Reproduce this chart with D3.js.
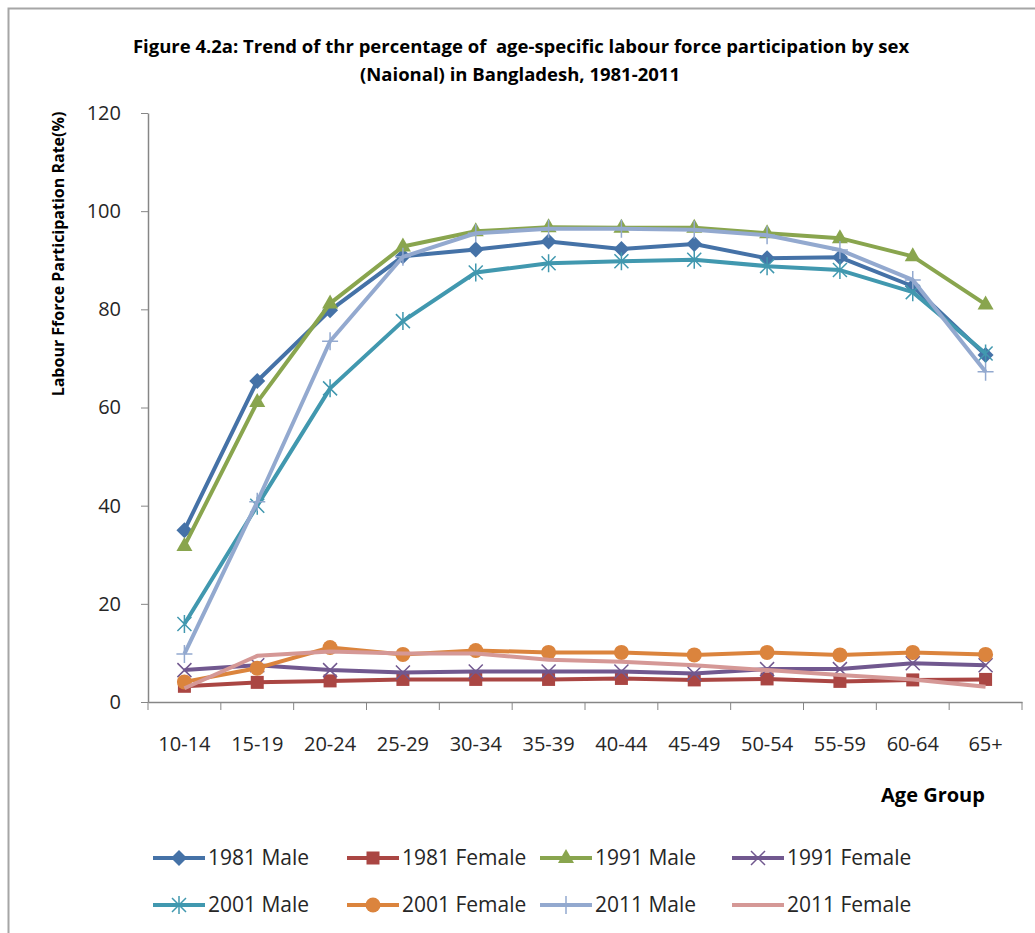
<!DOCTYPE html>
<html>
<head>
<meta charset="utf-8">
<script src="https://cdn.jsdelivr.net/npm/d3@7"></script>
<style>
    body { margin: 0; background: #fff; }
    svg { display: block; }
</style>
</head>
<body>
<div id="chart"></div>
<script>
// Chart data
const ageGroups = ['10-14', '15-19', '20-24', '25-29', '30-34', '35-39', '40-44', '45-49', '50-54', '55-59', '60-64', '65+'];
const yTicks = [0, 20, 40, 60, 80, 100, 120];

const male1981 = [35.0, 65.4, 79.8, 90.8, 92.2, 93.8, 92.3, 93.3, 90.4, 90.6, 84.7, 70.7];
const female1981 = [3.2, 4.0, 4.3, 4.6, 4.6, 4.6, 4.8, 4.5, 4.7, 4.2, 4.5, 4.6];
const male1991 = [31.8, 61.1, 81.2, 92.8, 95.9, 96.7, 96.6, 96.6, 95.5, 94.5, 90.8, 81.0];
const female1991 = [6.5, 7.5, 6.5, 6.0, 6.2, 6.2, 6.2, 5.8, 6.7, 6.7, 7.9, 7.5];
const male2001 = [15.9, 40.0, 63.9, 77.6, 87.5, 89.4, 89.8, 90.1, 88.8, 88.0, 83.5, 71.0];
const female2001 = [4.1, 6.9, 11.1, 9.7, 10.5, 10.1, 10.1, 9.6, 10.1, 9.6, 10.1, 9.7];
const male2011 = [9.8, 40.8, 73.5, 90.7, 95.5, 96.4, 96.4, 96.2, 95.1, 92.1, 86.0, 67.3];
const female2011 = [2.8, 9.4, 10.3, 9.9, 9.9, 8.6, 8.2, 7.5, 6.5, 5.5, 4.6, 3.1];

const seriesNames = ['1981 Male', '1981 Female', '1991 Male', '1991 Female', '2001 Male', '2001 Female', '2011 Male', '2011 Female'];
const seriesValues = [male1981, female1981, male1991, female1991, male2001, female2001, male2011, female2011];
const seriesColors = ['#4572A7', '#AA4643', '#89A54E', '#71588F', '#4198AF', '#DB843D', '#93A9CF', '#D59896'];
const seriesMarkers = ['diamond', 'square', 'triangle', 'cross', 'asterisk', 'circle', 'plus', 'none'];

const width = 1035, height = 933;
const font = "'Open Sans', 'Noto Sans', sans-serif";
const axisColor = '#868686';
const textColor = '#262626';

const svg = d3.select('#chart').append('svg')
    .attr('width', width)
    .attr('height', height)
    .attr('font-family', font);

// outer chart frame (cut by the page edge)
svg.append('rect')
    .attr('x', 8.5).attr('y', 8.5)
    .attr('width', 1060).attr('height', 960)
    .attr('fill', 'none')
    .attr('stroke', '#a6a6a6')
    .attr('stroke-width', 2);

const x = d3.scaleBand().domain(ageGroups).range([148, 1022]);
const y = d3.scaleLinear().domain([0, 120]).range([702, 113]);

// Title
const title = svg.append('g')
    .attr('font-weight', 'bold')
    .attr('font-size', 18.5)
    .attr('fill', '#000')
    .attr('text-anchor', 'middle');
title.append('text').attr('x', 521).attr('y', 53)
    .text('Figure 4.2a: Trend of thr percentage of  age-specific labour force participation by sex')
    .style('white-space', 'pre');
title.append('text').attr('x', 520).attr('y', 81)
    .text('(Naional) in Bangladesh, 1981-2011');

// Y axis
const yAxis = svg.append('g')
    .attr('transform', `translate(${x.range()[0]},0)`)
    .call(d3.axisLeft(y).tickValues(yTicks).tickSize(7).tickSizeOuter(0).tickPadding(20));

// X axis: labels in the band centres, ticks on the band edges
const xAxis = svg.append('g')
    .attr('transform', `translate(0,${y(0)})`)
    .call(d3.axisBottom(x).tickSize(0).tickSizeOuter(0).tickPadding(35));

const edges = ageGroups.map(d => x(d)).concat([x.range()[1]]);
xAxis.selectAll('.edge-tick')
    .data(edges)
    .enter().append('line')
    .attr('class', 'edge-tick')
    .attr('x1', d => d).attr('x2', d => d)
    .attr('y1', 0).attr('y2', 8)
    .attr('stroke', axisColor);

[yAxis, xAxis].forEach(a => {
    a.select('.domain').attr('stroke', axisColor).attr('stroke-width', 1.5);
    a.selectAll('.tick line').attr('stroke', axisColor);
    a.selectAll('.tick text')
        .attr('font-family', font)
        .attr('font-size', 20)
        .attr('fill', textColor);
});

// Axis titles
svg.append('text')
    .attr('transform', 'translate(64,254) rotate(-90)')
    .attr('text-anchor', 'middle')
    .attr('font-weight', 'bold')
    .attr('font-size', 16)
    .attr('fill', '#000')
    .text('Labour Fforce Participation Rate(%)');

svg.append('text')
    .attr('x', 933).attr('y', 802)
    .attr('text-anchor', 'middle')
    .attr('font-weight', 'bold')
    .attr('font-size', 20)
    .attr('fill', '#000')
    .text('Age Group');

// Markers
function drawMarker(g, type, cx, cy, color) {
    const m = g.append('g').attr('transform', `translate(${cx},${cy})`);
    if (type === 'diamond') {
        m.append('path').attr('d', 'M0,-8L8,0L0,8L-8,0Z').attr('fill', color);
    } else if (type === 'square') {
        m.append('rect').attr('x', -6.5).attr('y', -6.5).attr('width', 13).attr('height', 13).attr('fill', color);
    } else if (type === 'triangle') {
        m.append('path').attr('d', 'M0,-9L8,5L-8,5Z').attr('fill', color);
    } else if (type === 'circle') {
        m.append('circle').attr('r', 7.5).attr('fill', color);
    } else if (type === 'cross') {
        m.append('path').attr('d', 'M-7,-7L7,7M-7,7L7,-7')
            .attr('stroke', color).attr('stroke-width', 1.5).attr('fill', 'none');
    } else if (type === 'asterisk') {
        m.append('path').attr('d', 'M-7,-7L7,7M-7,7L7,-7M0,-9L0,9')
            .attr('stroke', color).attr('stroke-width', 1.5).attr('fill', 'none');
    } else if (type === 'plus') {
        m.append('path').attr('d', 'M-8,0L8,0M0,-9L0,9')
            .attr('stroke', color).attr('stroke-width', 1.5).attr('fill', 'none');
    }
}

const cx = d => x(d) + x.bandwidth() / 2;

const line = d3.line()
    .x((d, i) => cx(ageGroups[i]))
    .y(d => y(d));

const plot = svg.append('g').attr('class', 'series');

seriesValues.forEach((vals, s) => {
    const g = plot.append('g');
    g.append('path')
        .datum(vals)
        .attr('d', line)
        .attr('fill', 'none')
        .attr('stroke', seriesColors[s])
        .attr('stroke-width', 4)
        .attr('stroke-linejoin', 'round');
    vals.forEach((v, i) => drawMarker(g, seriesMarkers[s], cx(ageGroups[i]), y(v), seriesColors[s]));
});

// Legend: two rows of four
const legendX = [153, 347, 540, 732];
const legendY = [858, 905];
const legend = svg.append('g').attr('class', 'legend');

seriesNames.forEach((name, s) => {
    const lx = legendX[s % 4];
    const ly = legendY[Math.floor(s / 4)];
    const g = legend.append('g');
    g.append('line')
        .attr('x1', lx).attr('x2', lx + 52)
        .attr('y1', ly).attr('y2', ly)
        .attr('stroke', seriesColors[s])
        .attr('stroke-width', 4);
    drawMarker(g, seriesMarkers[s], lx + 26, ly, seriesColors[s]);
    g.append('text')
        .attr('x', lx + 55).attr('y', ly)
        .attr('dy', '0.35em')
        .attr('font-size', 21)
        .attr('fill', textColor)
        .text(name);
});
</script>
</body>
</html>
